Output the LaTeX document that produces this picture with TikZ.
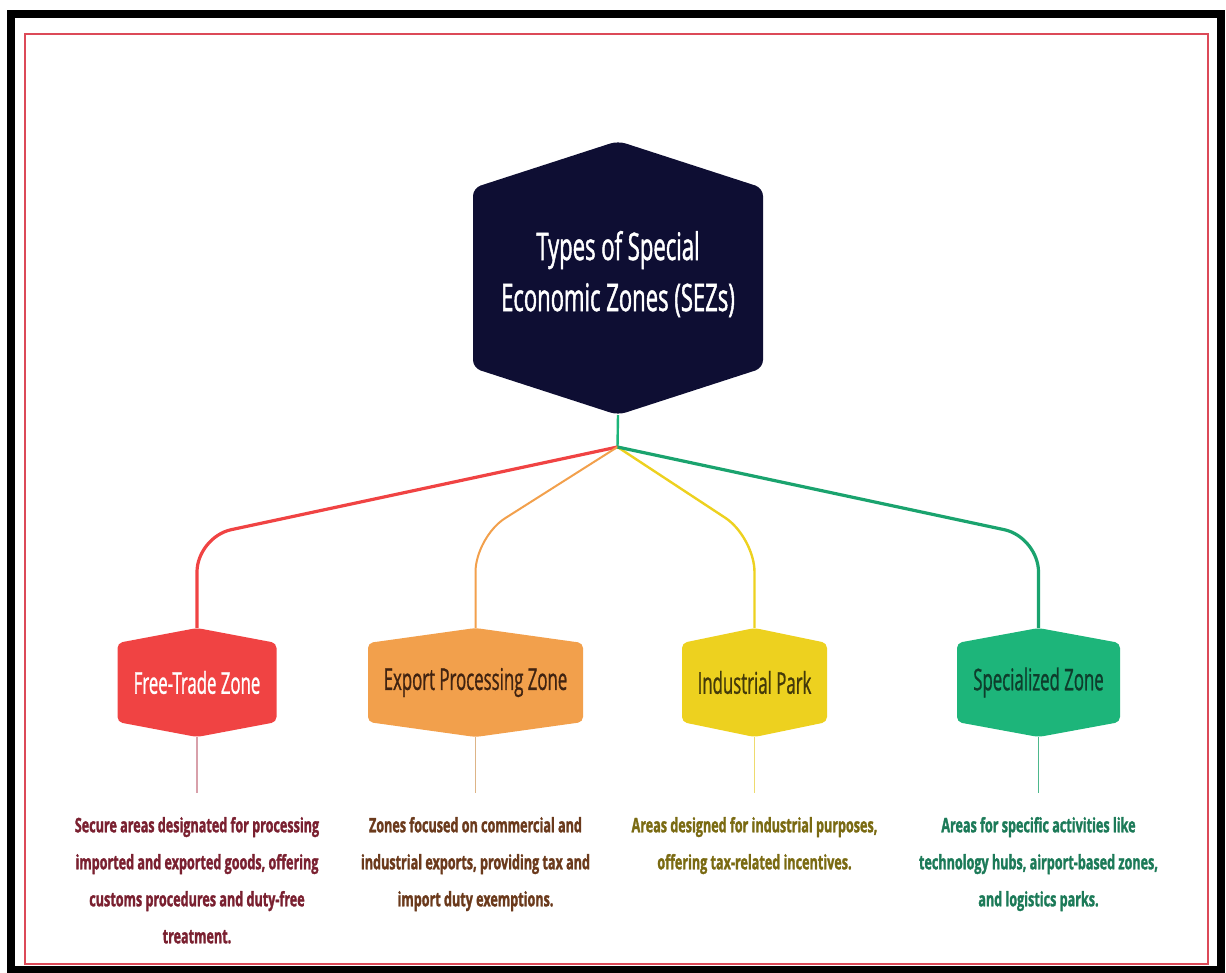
\documentclass[tikz,border=0pt]{standalone}
\usepackage{fontspec}
\setmainfont{Open Sans}
\newfontfamily\titlefont[FakeStretch=0.58, FakeBold=1.2]{Open Sans}
\newfontfamily\labelfont[FakeStretch=0.56, FakeBold=0.8]{Open Sans}
\newfontfamily\descfont[FakeStretch=0.63, FakeBold=1.4]{Open Sans}
\usetikzlibrary{positioning}
\usetikzlibrary{calc}
\usetikzlibrary{backgrounds}

\definecolor{navyhex}{HTML}{0E0E33}
\definecolor{ftzred}{HTML}{F04343}
\definecolor{epzorange}{HTML}{F2A04C}
\definecolor{ipyellow}{HTML}{EDD11F}
\definecolor{szgreen}{HTML}{1DB57A}
\definecolor{ftztext}{HTML}{7A2030}
\definecolor{epztext}{HTML}{6B3A1C}
\definecolor{iptext}{HTML}{7A6A12}
\definecolor{sztext}{HTML}{1C7A58}
\definecolor{ftzstub}{HTML}{D8A0AA}
\definecolor{epzstub}{HTML}{DDB487}
\definecolor{ipstub}{HTML}{EEDB6E}
\definecolor{szstub}{HTML}{4DB88C}
\definecolor{framered}{HTML}{DC4A58}

\tikzset{
  hexbox/.style={inner sep=0pt, outer sep=0pt, align=center,
    font={\labelfont\fontsize{30}{36}\selectfont}},
  descbox/.style={inner sep=0pt, outer sep=0pt, align=center,
    font={\descfont\bfseries\fontsize{20}{37}\selectfont}},
  branch/.style={line width=2.6pt, rounded corners=35pt},
  stub/.style={line width=1.2pt},
}

\begin{document}
\begin{tikzpicture}[x=1pt,y=-1pt]

\useasboundingbox (0,0) rectangle (1226,972);

% Frames
\draw [line width=8pt, black]   (11,14) rectangle (1221,970) ;
\draw [line width=2pt, framered] (25,34) rectangle (1208,964) ;

% Main topic
\node [hexbox, minimum width=290, minimum height=274, text=white,
       font={\titlefont\fontsize{38}{51}\selectfont}]
      (sez) at (618,278) {Types of Special\\Economic Zones (SEZs)\\[-37pt]};

% Zone types
\node [hexbox, minimum width=159, minimum height=109, text=white]    (ftz) at (197,682.5) {Free-Trade Zone};
\node [hexbox, minimum width=215, minimum height=109, text=epztext!60!black] (epz) at (475.5,682.5) {Export Processing Zone};
\node [hexbox, minimum width=145, minimum height=109, text=iptext!55!black]  (ip)  at (754.5,682.5) {Industrial Park};
\node [hexbox, minimum width=163, minimum height=109, text=sztext!50!black]  (sz)  at (1038.5,682.5) {Specialized Zone};

% Descriptions
\node [descbox, text=ftztext, below=80pt of ftz] (ftzdesc)
      {Secure areas designated for processing\\imported and exported goods, offering\\customs procedures and duty-free\\treatment.};
\node [descbox, text=epztext, below=80pt of epz] (epzdesc)
      {Zones focused on commercial and\\industrial exports, providing tax and\\import duty exemptions.};
\node [descbox, text=iptext, below=80pt of ip] (ipdesc)
      {Areas designed for industrial purposes,\\offering tax-related incentives.};
\node [descbox, text=sztext, below=80pt of sz] (szdesc)
      {Areas for specific activities like\\technology hubs, airport-based zones,\\and logistics parks.};

% Hexagon shapes behind the texts
\begin{scope}[on background layer]
\foreach \n/\c/\d/\r in {sez/navyhex/47/8, ftz/ftzred/15/5, epz/epzorange/15/5, ip/ipyellow/15/5, sz/szgreen/15/5}
  \fill [\c, rounded corners=\r pt] (\n.north) -- ([yshift=-\d pt]\n.north east) -- ([yshift=\d pt]\n.south east)
        -- (\n.south) -- ([yshift=\d pt]\n.south west) -- ([yshift=-\d pt]\n.north west) -- cycle ;
\end{scope}

% Branches
\coordinate (j) at (617.5,447);
\coordinate (bendrow) at (0,537);
\draw [line width=2.4pt, szgreen] (sez.south) -- (j) ;
\draw [branch, ftzred, line width=3.2pt]   (j) -- (ftz.north |- bendrow) -- (ftz.north) ;
\draw [branch, epzorange, line width=2pt]  (j) -- (epz.north |- bendrow) -- (epz.north) ;
\draw [branch, ipyellow, line width=2.4pt] (j) -- (ip.north |- bendrow) -- (ip.north) ;
\draw [branch, szgreen!90!black, line width=3.2pt] (j) -- (sz.north |- bendrow) -- (sz.north) ;

% Stubs to descriptions
\draw [stub, ftzstub] (ftz.south) -- ([yshift=24pt]ftzdesc.north) ;
\draw [stub, epzstub] (epz.south) -- ([yshift=24pt]epzdesc.north) ;
\draw [stub, ipstub]  (ip.south)  -- ([yshift=24pt]ipdesc.north) ;
\draw [stub, szstub]  (sz.south)  -- ([yshift=24pt]szdesc.north) ;

\end{tikzpicture}
\end{document}
